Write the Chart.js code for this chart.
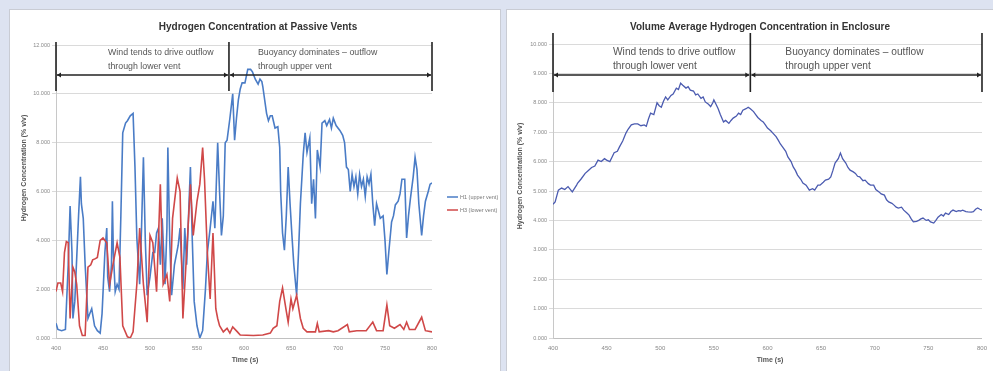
<!DOCTYPE html>
<html>
<head>
<meta charset="utf-8">
<script src="https://cdn.jsdelivr.net/npm/chart.js@4"></script>
<style>
  body { margin: 0; background: #dde3f1; width: 993px; height: 371px; overflow: hidden; position: relative; }
  .panel { position: absolute; background: #fff; border: 1px solid #c9ccd4; }
  canvas { position: absolute; left: 0; top: 0; }
</style>
</head>
<body>
<div class="panel" style="left:9px;top:9px;width:490px;height:362px"><canvas id="ventChart" width="490" height="362"></canvas></div>
<div class="panel" style="left:506px;top:9px;width:487px;height:362px"><canvas id="avgChart" width="487" height="362"></canvas></div>
<script>
// tick labels
const timeTicks = [400, 450, 500, 550, 600, 650, 700, 750, 800];
const ventTicks = [0, 2, 4, 6, 8, 10, 12];
const avgTicks = [0, 1, 2, 3, 4, 5, 6, 7, 8, 9, 10];

// phase annotation (time of switch-over) and texts
const phaseBounds = [400, 584, 800];
const windText = ['Wind tends to drive outflow', 'through lower vent'];
const buoyText = ['Buoyancy dominates \u2013 outflow', 'through upper vent'];

// H1 upper vent
const upperTime = [400,402,406,410,413,415,417,418,420,424,
  426,427,429,431,434,436,438,441,444,447,
  449,452,454,455,457,459,460,461,463,465,
  467,469,471,474,476,479,482,484,486,489,
  491,493,495,497,500,503,505,507,509,511,
  513,516,518,519,521,523,526,530,532,535,
  537,539,541,543,545,547,550,553,556,559,
  561,564,567,569,572,574,576,578,580,582,
  585,588,590,592,594,596,598,601,604,607,
  609,612,615,617,619,620,624,626,628,630,
  633,636,638,639,641,643,645,647,649,651,
  653,656,658,660,663,665,667,670,672,674,
  676,678,681,683,686,688,691,693,695,698,
  702,705,707,709,711,713,715,717,719,721,
  723,725,727,729,731,733,735,737,739,741,
  743,745,748,750,752,754,757,759,761,764,
  766,768,771,773,775,777,780,782,784,786,
  789,791,793,796,798,800];
const upperConc = [0.6,0.35,0.3,0.35,3.0,5.4,3.5,0.8,1.5,5.0,
  6.6,5.5,4.9,3.0,0.8,1.0,1.2,0.5,0.3,0.2,
  1.0,3.5,4.5,2.5,1.9,3.0,5.6,3.5,1.9,2.2,
  2.0,5.0,8.4,8.8,8.9,9.1,9.2,7.0,4.1,2.2,
  4.5,7.4,4.0,1.75,2.5,3.5,3.5,4.3,4.5,3.0,
  4.9,2.2,4.5,7.8,4.0,1.75,3.0,3.8,4.5,2.0,
  4.5,3.0,5.0,7.0,4.0,1.5,0.5,0.0,0.3,2.0,
  3.5,4.5,5.6,4.5,8.0,6.0,4.2,5.0,8.0,8.1,
  9.0,10.0,8.1,9.0,9.75,10.2,10.45,10.45,11.0,11.0,
  10.9,10.6,10.4,10.6,10.5,10.3,9.2,8.9,9.1,9.1,
  8.6,8.65,7.8,6.0,4.3,3.6,5.0,7.0,5.5,4.2,
  3.0,1.75,3.5,5.5,7.5,8.4,7.6,8.2,5.5,6.5,
  4.9,7.7,7.0,8.8,8.9,8.7,8.95,8.6,9.0,8.7,
  8.5,8.3,8.0,7.0,6.9,6.0,6.7,6.2,6.6,5.9,
  6.7,6.2,6.5,5.8,6.6,6.3,6.7,5.5,4.6,5.5,
  5.2,4.9,5.0,4.0,2.6,3.5,4.75,5.0,5.45,5.6,
  5.9,6.5,6.5,4.1,5.0,5.7,6.6,7.4,6.9,5.5,
  4.2,5.0,5.6,6.0,6.3,6.35];

// H3 lower vent
const lowerTime = [400,402,405,407,409,411,413,415,418,420,
  422,425,428,431,434,437,439,442,444,447,
  450,454,457,461,465,468,471,476,479,482,
  486,489,493,497,500,503,507,511,514,518,
  521,524,529,532,535,539,543,546,550,553,
  556,558,561,564,567,570,572,574,578,582,
  585,588,593,596,610,620,628,631,635,638,
  641,645,647,650,652,656,660,663,667,676,
  678,680,690,695,700,710,712,720,730,737,
  741,748,752,755,760,766,770,773,776,782,
  789,793,800];
const lowerConc = [1.9,2.25,2.25,1.9,3.5,3.95,3.9,0.8,2.9,2.7,
  2.2,0.5,0.1,0.1,2.9,3.0,3.2,3.25,3.3,4.0,
  4.1,3.9,2.2,3.1,3.9,3.3,0.5,0.05,0.0,0.25,
  2.2,4.5,2.2,0.65,4.2,3.9,1.9,6.3,2.2,2.6,
  1.5,4.9,6.55,6.0,0.8,3.5,6.3,4.2,5.6,6.3,
  7.8,6.5,3.5,1.6,4.3,1.2,0.8,0.5,0.25,0.4,
  0.2,0.45,0.25,0.12,0.1,0.12,0.2,0.4,0.5,1.5,
  2.05,1.1,0.65,1.6,1.2,1.75,0.8,0.4,0.25,0.25,
  0.6,0.25,0.3,0.25,0.3,0.55,0.25,0.3,0.3,0.65,
  0.3,0.3,1.35,0.5,0.4,0.55,0.35,0.65,0.35,0.35,
  0.85,0.3,0.25];

// volume average in enclosure
const avgTime = [400,402,405,408,411,414,418,422,423,426,
  430,433,436,439,442,445,448,450,453,455,
  457,460,462,465,468,470,473,476,479,482,
  485,487,489,491,494,497,499,501,503,505,
  507,510,512,515,517,519,521,524,526,528,
  531,533,535,538,540,542,545,547,549,550,
  552,554,556,559,561,564,566,568,571,573,
  575,577,580,582,584,587,589,591,594,596,
  598,600,603,605,608,610,612,614,617,619,
  622,624,626,628,631,633,636,639,642,644,
  647,649,652,654,657,659,661,663,666,668,
  670,673,675,677,680,682,684,686,689,691,
  694,696,699,701,704,706,709,711,713,716,
  718,720,722,725,727,730,732,734,736,739,
  741,743,745,748,750,752,755,757,759,762,
  764,766,769,771,773,776,778,780,782,785,
  787,790,792,794,796,798,800];
const avgConc = [4.55,4.63,5.03,5.1,5.05,5.15,4.97,5.2,5.27,5.4,
  5.6,5.7,5.8,5.85,6.05,6.0,6.1,6.05,6.0,6.15,
  6.3,6.35,6.5,6.7,6.97,7.1,7.25,7.28,7.28,7.22,
  7.25,7.2,7.45,7.65,7.6,8.0,7.9,7.85,8.05,8.2,
  8.1,8.25,8.3,8.5,8.45,8.67,8.6,8.5,8.55,8.43,
  8.4,8.27,8.3,8.15,8.2,8.03,7.95,7.87,8.0,8.1,
  7.95,7.8,7.6,7.35,7.4,7.3,7.4,7.48,7.55,7.65,
  7.6,7.75,7.8,7.85,7.8,7.7,7.6,7.5,7.4,7.35,
  7.25,7.14,7.05,6.97,6.85,6.73,6.6,6.5,6.35,6.16,
  6.0,5.82,5.7,5.54,5.4,5.27,5.2,5.03,5.08,5.03,
  5.2,5.2,5.3,5.37,5.4,5.48,5.7,5.95,6.1,6.29,
  6.1,5.95,5.8,5.71,5.65,5.6,5.5,5.48,5.35,5.37,
  5.25,5.2,5.2,5.05,4.97,4.9,4.86,4.7,4.63,4.58,
  4.52,4.45,4.42,4.45,4.35,4.25,4.18,4.05,3.95,3.97,
  4.0,4.05,4.08,4.0,4.02,3.95,3.91,4.0,4.11,4.2,
  4.15,4.25,4.2,4.3,4.35,4.3,4.33,4.32,4.35,4.3,
  4.29,4.28,4.3,4.38,4.42,4.38,4.35];

const FONT = '"Liberation Sans", Arial, sans-serif';
const pts = (t, v) => t.map((x, i) => ({ x: x, y: v[i] }));

// titles, bracket annotation and legend drawn on top of the plot
const decor = {
  id: 'decor',
  afterDatasetsDraw(chart, args, o) {
    const ctx = chart.ctx;
    const xs = chart.scales.x;
    const top = chart.chartArea.top;
    ctx.save();
    ctx.textAlign = 'center';
    ctx.textBaseline = 'middle';
    ctx.fillStyle = '#333';
    ctx.font = 'bold 10px ' + FONT;
    ctx.fillText(o.title, o.titleX, 17);
    ctx.fillStyle = '#555';
    ctx.font = 'bold 7px ' + FONT;
    ctx.fillText('Time (s)', o.xTitleX, 350);
    ctx.save();
    ctx.translate(o.yTitleX, o.yTitleY);
    ctx.rotate(-Math.PI / 2);
    ctx.fillText('Hydrogen Concentration (% v/v)', 0, 0);
    ctx.restore();

    // phase bracket
    const px = phaseBounds.map(v => xs.getPixelForValue(v));
    ctx.strokeStyle = '#222';
    ctx.fillStyle = '#222';
    ctx.lineWidth = 1.6;
    px.forEach(x => {
      ctx.beginPath();
      ctx.moveTo(x, top + o.barTop);
      ctx.lineTo(x, top + o.barBottom);
      ctx.stroke();
    });
    const ay = top + o.arrowY;
    const arrow = (a, b) => {
      ctx.beginPath();
      ctx.moveTo(a + 1, ay);
      ctx.lineTo(b - 1, ay);
      ctx.stroke();
      [[a + 1, 1], [b - 1, -1]].forEach(([x, d]) => {
        ctx.beginPath();
        ctx.moveTo(x, ay);
        ctx.lineTo(x + 4 * d, ay - 2.5);
        ctx.lineTo(x + 4 * d, ay + 2.5);
        ctx.closePath();
        ctx.fill();
      });
    };
    arrow(px[0], px[1]);
    arrow(px[1], px[2]);

    ctx.fillStyle = '#555';
    ctx.textAlign = 'left';
    ctx.font = o.noteSize + 'px ' + FONT;
    windText.forEach((s, i) => ctx.fillText(s, px[0] + o.windDx, top + o.noteY + i * 14));
    buoyText.forEach((s, i) => ctx.fillText(s, px[1] + o.buoyDx, top + o.noteY + i * 14));

    if (o.legendX) {
      ctx.font = '5.5px ' + FONT;
      ctx.fillStyle = '#777';
      chart.data.datasets.forEach((ds, i) => {
        const y = o.legendY + i * 13;
        ctx.strokeStyle = ds.borderColor;
        ctx.lineWidth = 1.5;
        ctx.beginPath();
        ctx.moveTo(o.legendX, y);
        ctx.lineTo(o.legendX + 11, y);
        ctx.stroke();
        ctx.fillText(ds.label, o.legendX + 13, y);
      });
    }
    ctx.restore();
  }
};

function makeOptions(yTicks, pad, deco) {
  return {
    responsive: false,
    animation: false,
    devicePixelRatio: 1,
    events: [],
    layout: { padding: pad },
    elements: { point: { radius: 0 }, line: { tension: 0 } },
    scales: {
      x: {
        type: 'linear',
        min: timeTicks[0],
        max: timeTicks[timeTicks.length - 1],
        afterBuildTicks: s => { s.ticks = timeTicks.map(v => ({ value: v })); },
        afterFit: s => { s.height = 34; },
        ticks: { autoSkip: false, maxRotation: 0, padding: 7, color: '#888', font: { size: 6, family: FONT } },
        grid: { display: false, drawTicks: false },
        border: { color: '#c0c0c0' }
      },
      y: {
        min: yTicks[0],
        max: yTicks[yTicks.length - 1],
        afterBuildTicks: s => { s.ticks = yTicks.map(v => ({ value: v })); },
        afterFit: s => { s.width = 36; },
        ticks: { padding: 2, color: '#888', font: { size: 5.5, family: FONT }, callback: v => v.toFixed(3) },
        grid: { color: '#dadada', tickLength: 4 },
        border: { color: '#c8c8c8' }
      }
    },
    plugins: { legend: { display: false }, title: { display: false }, tooltip: { enabled: false }, decor: deco }
  };
}

new Chart(document.getElementById('ventChart').getContext('2d'), {
  type: 'line',
  data: {
    datasets: [
      { label: 'H1 (upper vent)', data: pts(upperTime, upperConc), borderColor: '#4a7cc6', borderWidth: 1.6, order: 1 },
      { label: 'H3 (lower vent)', data: pts(lowerTime, lowerConc), borderColor: '#d04848', borderWidth: 1.6, order: 0 }
    ]
  },
  options: makeOptions(ventTicks, { left: 10, right: 68, top: 35, bottom: 0 }, {
    title: 'Hydrogen Concentration at Passive Vents', titleX: 248,
    xTitleX: 235, yTitleX: 14, yTitleY: 158,
    barTop: -3, barBottom: 46, arrowY: 30, noteY: 8, noteSize: 8.8, windDx: 52, buoyDx: 29,
    legendX: 437, legendY: 187
  }),
  plugins: [decor]
});

new Chart(document.getElementById('avgChart').getContext('2d'), {
  type: 'line',
  data: {
    datasets: [
      { label: 'Volume average', data: pts(avgTime, avgConc), borderColor: '#4b5bb0', borderWidth: 1.3 }
    ]
  },
  options: makeOptions(avgTicks, { left: 10, right: 8, top: 34, bottom: 0 }, {
    title: 'Volume Average Hydrogen Concentration in Enclosure', titleX: 253,
    xTitleX: 263, yTitleX: 13, yTitleY: 166,
    barTop: -11, barBottom: 48, arrowY: 31, noteY: 8, noteSize: 10.2, windDx: 60, buoyDx: 35
  }),
  plugins: [decor]
});
</script>
</body>
</html>
